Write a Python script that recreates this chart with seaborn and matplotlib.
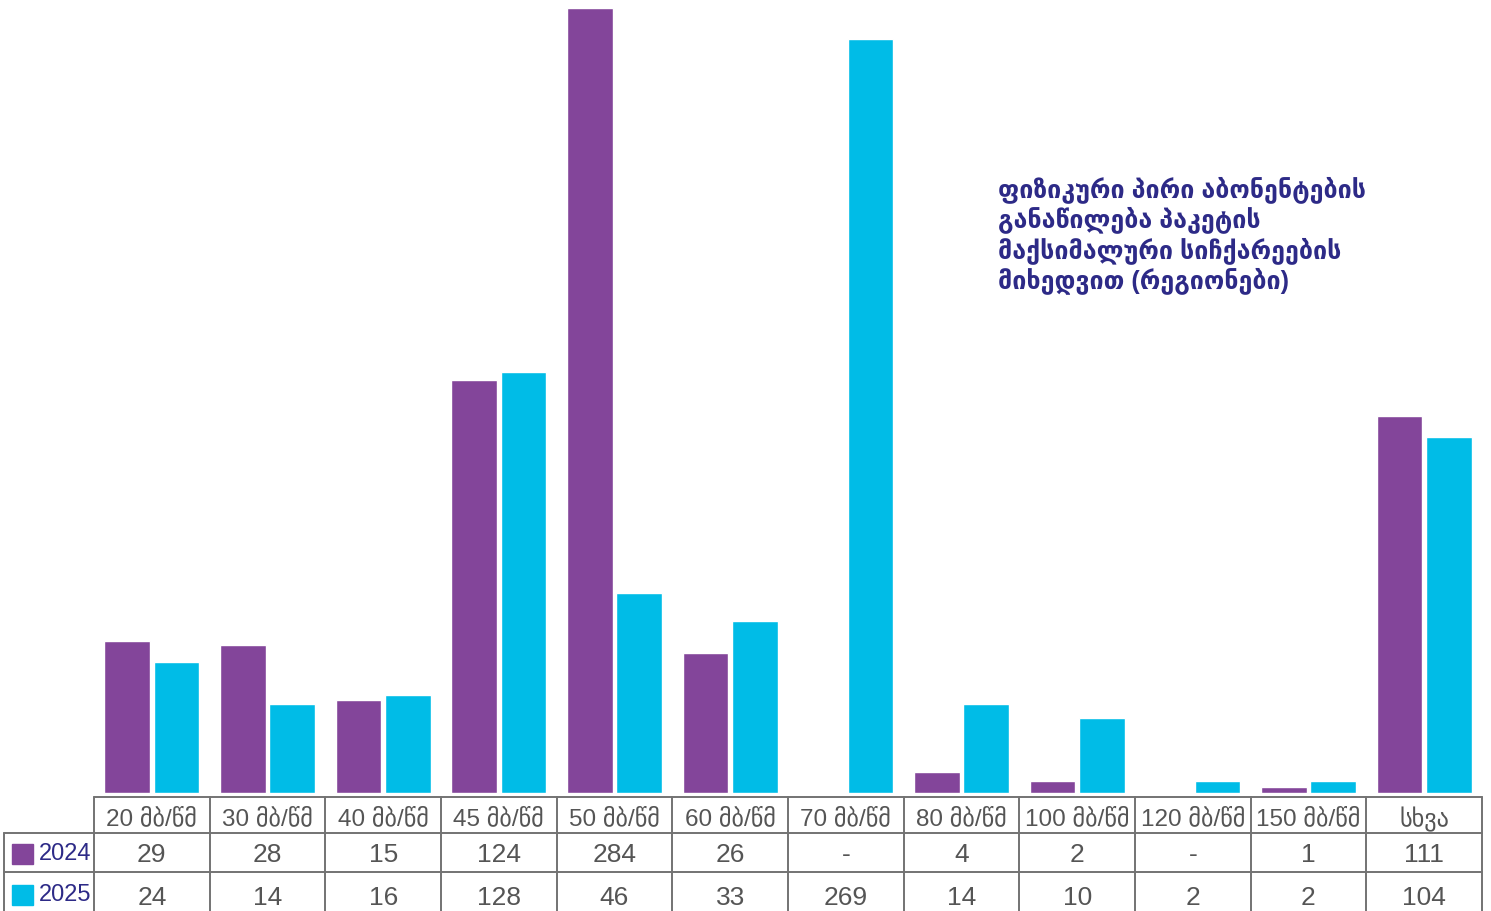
import matplotlib
matplotlib.use("Agg")
import matplotlib.pyplot as plt
from matplotlib.patches import Rectangle
import seaborn as sns
import pandas as pd

# categories (package max speed)
categories = ["20 მბ/წმ", "30 მბ/წმ", "40 მბ/წმ", "45 მბ/წმ", "50 მბ/წმ", "60 მბ/წმ",
              "70 მბ/წმ", "80 მბ/წმ", "100 მბ/წმ", "120 მბ/წმ", "150 მბ/წმ", "სხვა"]
years = ["2024", "2025"]

bar_2024 = [55, 53.5, 33.6, 149.4, 284, 50.6, 0, 7.6, 4.3, 0, 2.2, 136.4]
bar_2025 = [47.4, 32.2, 35.5, 152.3, 72.4, 62.2, 272.8, 32.2, 27.1, 4.3, 4.3, 128.8]

# values printed in the data table
table_2024 = ["29", "28", "15", "124", "284", "26", "-", "4", "2", "-", "1", "111"]
table_2025 = ["24", "14", "16", "128", "46", "33", "269", "14", "10", "2", "2", "104"]

title = "ფიზიკური პირი აბონენტების\nგანაწილება პაკეტის\nმაქსიმალური სიჩქარეების\nმიხედვით (რეგიონები)"

purple = "#83459A"
cyan = "#00BCE7"
navy = "#2D2A87"
grey_txt = "#555555"
line_c = "#737373"

sns.set_style("white")
plt.rcParams["font.family"] = ["Liberation Sans", "DejaVu Sans"]

df = pd.DataFrame({
    "cat": categories * 2,
    "year": [years[0]] * len(categories) + [years[1]] * len(categories),
    "value": bar_2024 + bar_2025,
})

W, H = 1491, 912
fig = plt.figure(figsize=(W / 100, H / 100), dpi=100)

x0, x1 = 94, 1482          # table left / right edge in px
base, top = 794, 9         # bar baseline / top of tallest bar in px
ax = fig.add_axes([x0 / W, (H - base) / H, (x1 - x0) / W, (base - top) / H])
sns.barplot(data=df, x="cat", y="value", hue="year", hue_order=years,
            palette=[purple, cyan], saturation=1, width=0.85, gap=0.07,
            legend=False, ax=ax)
ax.set_xlim(-0.5, len(categories) - 0.5)
ax.set_ylim(0, max(bar_2024 + bar_2025))
ax.set_axis_off()

# data table below the bars
tax = fig.add_axes([x0 / W, 0, (x1 - x0) / W, (H - base) / H])
tax.set_xlim(-0.5, len(categories) - 0.5)
tax.set_ylim(0, H - base)
tax.set_axis_off()
col_w = (x1 - x0) / len(categories)

def px(xp):
    return -0.5 + (xp - x0) / col_w

n = len(categories)
y_head, y_r1, y_r2 = H - base - 4, H - base - 40, H - base - 79
kw = dict(color=line_c, lw=1.4, clip_on=False)
tax.plot([-0.5, n - 0.5], [y_head, y_head], **kw)
tax.plot([px(4), n - 0.5], [y_r1, y_r1], **kw)
tax.plot([px(4), n - 0.5], [y_r2, y_r2], **kw)
for i in range(n + 1):
    tax.plot([i - 0.5, i - 0.5], [0, y_head], **kw)
tax.plot([px(4), px(4)], [0, y_r1], **kw)

for i, c in enumerate(categories):
    tax.text(i, (y_head + y_r1) / 2 - 3, c, ha="center", va="center",
             fontsize=17.5, color=grey_txt, clip_on=False)
    tax.text(i, (y_r1 + y_r2) / 2 - 2, table_2024[i], ha="center", va="center",
             fontsize=19, color=grey_txt, clip_on=False)
    tax.text(i, y_r2 / 2 - 6, table_2025[i], ha="center", va="center",
             fontsize=19, color=grey_txt, clip_on=False)

for yr, col, yc in [(years[0], purple, (y_r1 + y_r2) / 2 - 1), (years[1], cyan, y_r2 / 2 - 3)]:
    tax.add_patch(Rectangle((px(12), yc - 10), 21 / col_w, 20, color=col, clip_on=False))
    tax.text(px(39), yc, yr, ha="left", va="center", fontsize=17, color=navy, clip_on=False)

fig.text(998 / W, 1 - 176 / H, title, ha="left", va="top", fontsize=18,
         fontweight="bold", color=navy, linespacing=1.17)

fig.savefig("out.png", dpi=100, facecolor="white")
